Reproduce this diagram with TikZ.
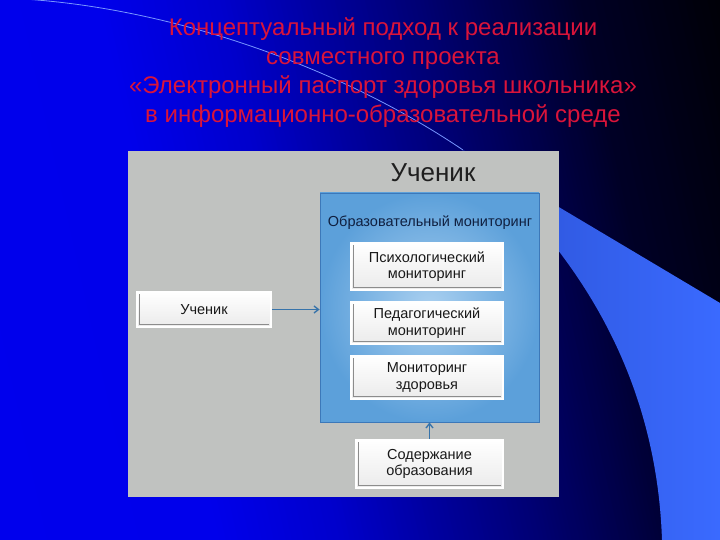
\documentclass[tikz,border=0pt]{standalone}
\usepackage{fontspec}
\setmainfont{Liberation Sans}
\usetikzlibrary{arrows.meta}
\definecolor{titlered}{RGB}{218,20,58}
\definecolor{panelgray}{RGB}{192,194,192}
\definecolor{monedge}{RGB}{60,120,185}
\definecolor{monin}{RGB}{170,208,240}
\definecolor{monout}{RGB}{92,160,218}
\definecolor{arrowblue}{RGB}{55,115,170}
\definecolor{swlight}{RGB}{58,106,255}
\definecolor{swdark}{RGB}{44,82,212}
\definecolor{arcline}{RGB}{120,150,255}
\definecolor{montext}{RGB}{16,32,64}
\tikzset{
  wbox/.style={draw=white, line width=1.6bp, top color=white, bottom color=black!8,
    inner sep=0pt, align=center, text=black!90,
    font=\fontsize{14.5bp}{16.5bp}\selectfont,
    path picture={\draw[black!45, line width=0.9bp]
      ([shift={(2.4bp,-2.4bp)}]path picture bounding box.north west) |-
      ([shift={(-2.4bp,2.4bp)}]path picture bounding box.south east);}},
  monbox/.style={draw=monedge, line width=0.8bp, inner color=monin, outer color=monout, inner sep=0pt},
  conn/.style={draw=arrowblue, line width=1.4bp, -{Straight Barb[length=4.5bp,width=7bp]}}
}
\begin{document}
\begin{tikzpicture}[x=1bp,y=-1bp,font=\fontsize{14bp}{16bp}\selectfont]
\useasboundingbox (0,0) rectangle (720,540);
\begin{scope}
\clip (0,0) rectangle (720,540);
% background gradient (slightly tilted)
\foreach \ua/\ub/\ca/\cb in {-10/220/0.93/0.92, 220/340/0.92/0.8, 340/440/0.8/0.62, 440/540/0.62/0.45, 540/620/0.45/0.3, 620/700/0.3/0.15, 700/850/0.15/0.02}{
  \foreach \k in {0,...,19}{
    \pgfmathsetmacro\uu{\ua+(\ub-\ua)*\k/20}
    \pgfmathsetmacro\uw{(\ub-\ua)/20+0.8}
    \pgfmathsetmacro\cc{\ca+(\cb-\ca)*(\k+0.5)/20}
    \definecolor{bgc}{rgb}{0,0,\cc}
    \fill[bgc] (\uu-120,0) -- (\uu+\uw-120,0) -- (\uu+\uw,540) -- (\uu,540) -- cycle;
  }
}
% swoosh
\shade[left color=swdark, right color=swlight]
  (463,150) -- (720,303) -- (720,540) -- (662,540) .. controls (655,330) and (530,210) .. (463,150) -- cycle;
% thin arc
\draw[arcline, line width=0.8bp] (0,-2) .. controls (150,2) and (330,60) .. (463,150);
\end{scope}

% title
\node[text=titlered, font=\fontsize{24bp}{29bp}\selectfont, align=center] (title) at (383,73)
  {Концептуальный подход к реализации\\совместного проекта\\«Электронный паспорт здоровья школьника»\\в информационно-образовательной среде};

% panel
\node[fill=panelgray, minimum width=431bp, minimum height=346bp, inner sep=0pt, anchor=north west] (panel) at (128,151) {};
\node[font=\fontsize{26bp}{30bp}\selectfont, text=black!88] (bigtitle) at (433,173) {Ученик};

\node[monbox, minimum width=219bp, minimum height=229bp] (mon) at (429.5,307.5) {};
\node[text=montext, font=\fontsize{14.5bp}{16bp}\selectfont] (monlabel) at (430,223) {Образовательный мониторинг};

\node[wbox, minimum width=152bp, minimum height=47bp] (psy) at (427,266.5) {Психологический\\мониторинг};
\node[wbox, minimum width=152bp, minimum height=42bp] (ped) at (427,323) {Педагогический\\мониторинг};
\node[wbox, minimum width=152bp, minimum height=43bp] (hlt) at (427,377.5) {Мониторинг\\здоровья};
\node[wbox, minimum width=147bp, minimum height=48bp] (content) at (429.5,464) {Содержание\\образования};
\node[wbox, minimum width=134bp, minimum height=35bp] (lu) at (204,309.5) {Ученик};

\draw[conn] (lu.east) -- (lu.east -| mon.west);
\draw[conn] (content.north) -- (content.north |- mon.south);
\end{tikzpicture}
\end{document}
